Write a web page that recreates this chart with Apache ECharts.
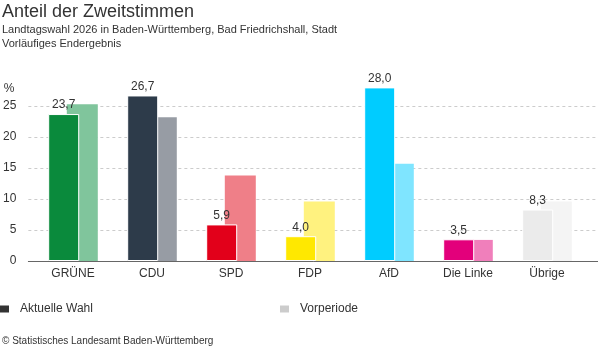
<!DOCTYPE html>
<html>
<head>
<meta charset="utf-8">
<script src="https://cdn.jsdelivr.net/npm/echarts@6/dist/echarts.min.js"></script>
<style>html,body{margin:0;padding:0;background:#fff;}#c{width:598px;height:352px;}</style>
</head>
<body>
<div id="c"></div>
<script>
var categories = ['GRÜNE', 'CDU', 'SPD', 'FDP', 'AfD', 'Die Linke', 'Übrige'];
var currentValues = [23.7, 26.7, 5.9, 4.0, 28.0, 3.5, 8.3];
var previousValues = [25.3, 23.2, 13.8, 9.6, 15.7, 3.4, 9.6];
var currentColors = ['#0A8A3C', '#2D3B4A', '#E2001A', '#FFE800', '#00CCFF', '#E3007B', '#EBEBEB'];
var previousColors = ['#80C59C', '#979CA4', '#EF7F88', '#FFF27F', '#7FE5FF', '#F07FBB', '#F4F4F4'];
var yTicks = [0, 5, 10, 15, 20, 25];

var font = 'Liberation Sans, Arial, sans-serif';
var chart = echarts.init(document.getElementById('c'));
chart.setOption({
  animation: false,
  textStyle: { fontFamily: font },
  title: [
    { text: 'Anteil der Zweitstimmen', left: 2, top: 3, padding: 0, textStyle: { fontSize: 18, fontWeight: 'normal', color: '#333', fontFamily: font } },
    { text: 'Landtagswahl 2026 in Baden-Württemberg, Bad Friedrichshall, Stadt\nVorläufiges Endergebnis', left: 2, top: 23, padding: 0, textStyle: { fontSize: 11, lineHeight: 14, fontWeight: 'normal', color: '#333', fontFamily: font } },
    { text: '© Statistisches Landesamt Baden-Württemberg', left: 2, top: 336, padding: 0, textStyle: { fontSize: 10, fontWeight: 'normal', color: '#333', fontFamily: font } }
  ],
  legend: [
    { data: ['Aktuelle Wahl'], left: 0, top: 303, padding: 0, itemWidth: 9, itemHeight: 7, icon: 'rect', textStyle: { fontSize: 12, color: '#333', padding: [0, 0, 0, 6] } },
    { data: ['Vorperiode'], left: 280, top: 303, padding: 0, itemWidth: 9, itemHeight: 7, icon: 'rect', textStyle: { fontSize: 12, color: '#333', padding: [0, 0, 0, 6] } }
  ],
  grid: [
    { left: 23, right: 0, top: 106, bottom: 91 },
    { left: 33.5, right: 11.5, top: 106, bottom: 91 }
  ],
  xAxis: [
    { gridIndex: 0, type: 'category', data: [''], axisLine: { lineStyle: { color: '#666' } }, axisTick: { show: false }, axisLabel: { show: false } },
    { gridIndex: 1, type: 'category', data: categories, axisLine: { show: false }, axisTick: { show: false }, axisLabel: { fontSize: 12, color: '#333', margin: 7 } }
  ],
  yAxis: [
    { gridIndex: 0, type: 'value', min: yTicks[0], max: yTicks[yTicks.length - 1], interval: 5,
      name: '%', nameLocation: 'end', nameGap: 11, nameTextStyle: { fontSize: 12, color: '#333', align: 'right', padding: [0, 14, 0, 0] },
      axisLine: { show: false }, axisTick: { show: false },
      axisLabel: { fontSize: 12, color: '#333', margin: 12 },
      splitLine: { lineStyle: { color: '#ccc', type: [3, 3], width: 1 } } },
    { gridIndex: 1, type: 'value', min: yTicks[0], max: yTicks[yTicks.length - 1], interval: 5, show: false, splitLine: { show: false } }
  ],
  series: [
    { name: 'Aktuelle Wahl', type: 'bar', xAxisIndex: 1, yAxisIndex: 1, clip: false, z: 3,
      barWidth: 31, barGap: '-40%',
      itemStyle: { color: '#333' },
      data: currentValues.map(function (v, i) { return { value: v, itemStyle: { color: currentColors[i], borderColor: '#fff', borderWidth: 1 } }; }),
      label: { show: true, position: 'top', distance: 3, fontSize: 12, color: '#333',
        formatter: function (p) { return p.value.toFixed(1).replace('.', ','); } } },
    { name: 'Vorperiode', type: 'bar', xAxisIndex: 1, yAxisIndex: 1, clip: false, z: 2,
      barWidth: 31, barGap: '-40%',
      itemStyle: { color: '#ccc' },
      data: previousValues.map(function (v, i) { return { value: v, itemStyle: { color: previousColors[i] } }; }) }
  ]
});
</script>
</body>
</html>
